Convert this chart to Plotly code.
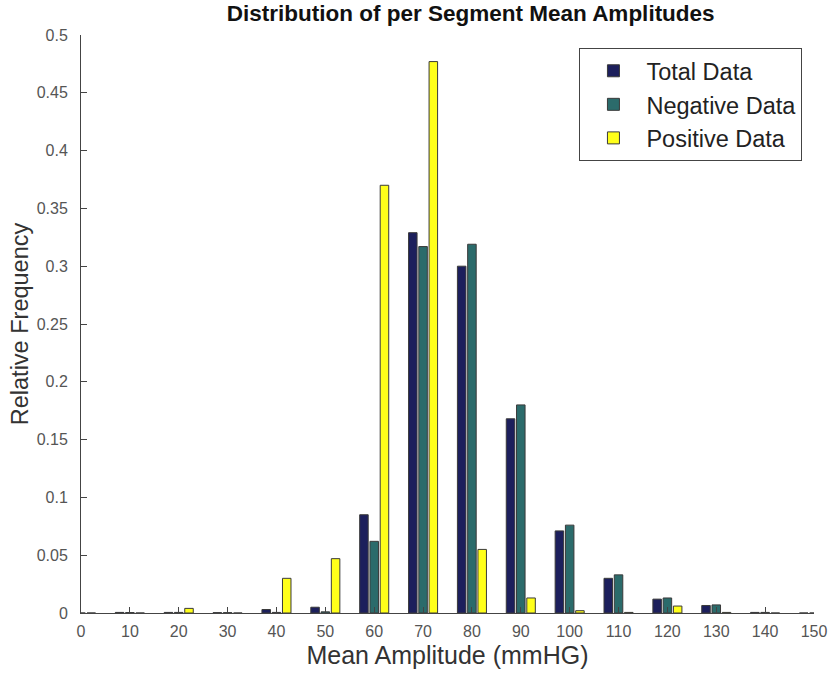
import plotly.graph_objects as go

bins = [0, 10, 20, 30, 40, 50, 60, 70, 80, 90, 100, 110, 120, 130, 140, 150]
total_data = [0.0, 0.0005, 0.0005, 0.0003, 0.003, 0.005, 0.085, 0.329, 0.300, 0.168, 0.071, 0.030, 0.012, 0.0065, 0.0005, 0.0]
negative_data = [0.0, 0.0004, 0.0005, 0.0003, 0.0005, 0.001, 0.062, 0.317, 0.319, 0.180, 0.076, 0.033, 0.013, 0.007, 0.0005, 0.0]
positive_data = [0.0, 0.0, 0.004, 0.0, 0.030, 0.047, 0.370, 0.477, 0.055, 0.013, 0.002, 0.0005, 0.006, 0.0005, 0.0, 0.0]

x_ticks = list(range(0, 151, 10))
y_ticks = [0, 0.05, 0.1, 0.15, 0.2, 0.25, 0.3, 0.35, 0.4, 0.45, 0.5]
y_tick_labels = ["0", "0.05", "0.1", "0.15", "0.2", "0.25", "0.3", "0.35", "0.4", "0.45", "0.5"]

series = [
    ("Total Data", total_data, "#1c1f5c"),
    ("Negative Data", negative_data, "#2b6b6b"),
    ("Positive Data", positive_data, "#ffff1a"),
]

fig = go.Figure()
for name, vals, col in series:
    fig.add_trace(go.Bar(
        x=bins, y=vals, name=name,
        marker=dict(color=col, line=dict(color="#3a3a3a", width=1)),
    ))

font_family = "Liberation Sans, Arial, sans-serif"
fig.update_layout(
    width=839, height=677,
    margin=dict(l=81, r=16, t=35, b=63),
    paper_bgcolor="white", plot_bgcolor="white",
    barmode="group", bargap=0.37, bargroupgap=0.17,
    font=dict(family=font_family, color="#333333"),
    title=dict(text="<b>Distribution of per Segment Mean Amplitudes</b>",
               x=0.561, xanchor="center", y=0.981, yanchor="middle",
               font=dict(size=22.5, color="#111111")),
    showlegend=True,
    legend=dict(x=0.68, y=0.9775, xanchor="left", yanchor="top",
                bgcolor="white", bordercolor="#444444", borderwidth=1,
                font=dict(size=23.5, color="#222222"), itemwidth=56,
                tracegroupgap=0),
    xaxis=dict(range=[0, 150], tickmode="array", tickvals=x_ticks,
               ticktext=[str(t) for t in x_ticks],
               ticks="inside", ticklen=6, tickcolor="#444444",
               showline=True, linecolor="#444444", linewidth=1,
               showgrid=False, zeroline=False, ticklabelstandoff=4,
               tickfont=dict(size=16, color="#555555"),
               title=dict(text="Mean Amplitude (mmHG)", font=dict(size=25, color="#333333"), standoff=7)),
    yaxis=dict(range=[0, 0.5], tickmode="array", tickvals=y_ticks,
               ticktext=y_tick_labels,
               ticks="inside", ticklen=6, tickcolor="#444444",
               showline=True, linecolor="#444444", linewidth=1,
               showgrid=False, zeroline=False, ticklabelstandoff=9,
               tickfont=dict(size=16, color="#555555"),
               title=dict(text="Relative Frequency", font=dict(size=23.5, color="#333333"), standoff=1)),
)

fig.write_html("out.html")
